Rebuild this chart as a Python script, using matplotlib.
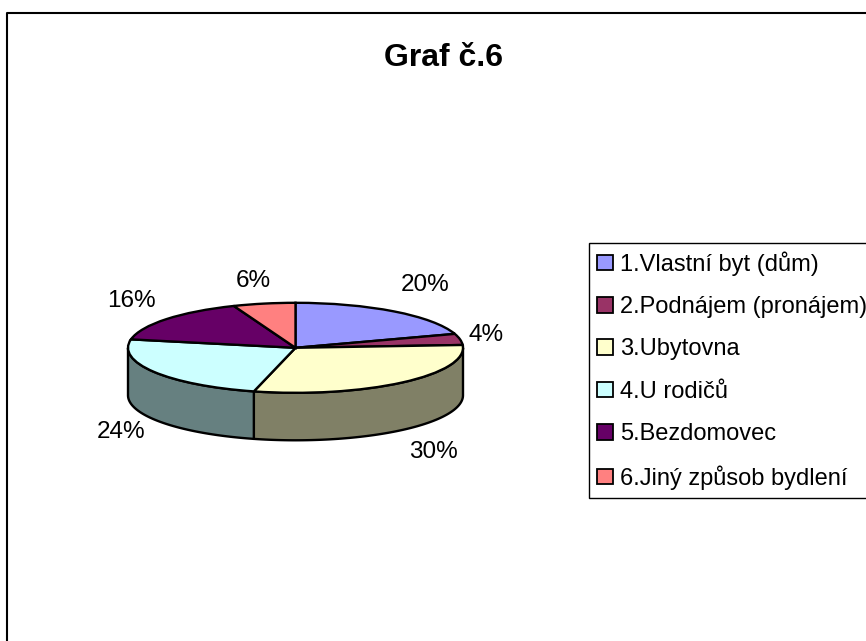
import numpy as np
import matplotlib
matplotlib.use("Agg")
import matplotlib.pyplot as plt
from matplotlib.lines import Line2D
from matplotlib.colors import to_rgb

categories = ["1.Vlastní byt (dům)", "2.Podnájem (pronájem)", "3.Ubytovna",
              "4.U rodičů", "5.Bezdomovec", "6.Jiný způsob bydlení"]
values = [20, 4, 30, 24, 16, 6]
colors = ["#9999FF", "#993366", "#FFFFCC", "#CCFFFF", "#660066", "#FF8080"]
title = "Graf č.6"

plt.rcParams['font.family'] = ['Liberation Sans', 'DejaVu Sans']
W, H = 866, 641
fig = plt.figure(figsize=(W / 100, H / 100), dpi=100, facecolor="white")

def fx(x): return x / W
def fy(y): return 1 - y / H

# pie geometry in pixels
cx, cy, rx, ry, depth = 295.5, 347.8, 167.5, 45.0, 47.5
ax = fig.add_axes([0, 0, 1, 1])

wedges, _ = ax.pie(values, colors=colors, startangle=90, counterclock=False, radius=1,
                   wedgeprops=dict(edgecolor="black", linewidth=1.7, zorder=3))
ax.set_aspect("auto")
ax.set_xlim(-cx / rx, (W - cx) / rx)
ax.set_ylim((cy - H) / ry, cy / ry)
ax.axis("off")

# side wall, built from the same values
d = depth / ry
edges = np.cumsum([0] + values) / sum(values) * 2 * np.pi
for a0, a1, c in zip(edges[:-1], edges[1:], colors):
    lo, hi = max(a0, np.pi / 2), min(a1, 3 * np.pi / 2)
    if hi <= lo:
        continue
    t = np.linspace(lo, hi, 80)
    xs = np.sin(t)
    ys = np.cos(t)
    px = np.r_[xs, xs[::-1]]
    py = np.r_[ys, ys[::-1] - d]
    dark = tuple(v * 0.5 for v in to_rgb(c))
    ax.fill(px, py, facecolor=dark, edgecolor="black", linewidth=1.7, zorder=2,
            joinstyle="round")

# percent labels
label_pos = [(425, 285), (486, 335), (433, 452), (121, 432), (131, 301), (253, 281)]
for v, (x, y) in zip(values, label_pos):
    fig.text(fx(x), fy(y), f"{v}%", fontsize=17.5, ha="center", va="center", color="black")

fig.text(fx(444), fy(58), title, fontsize=23, fontweight="bold", ha="center", va="center")

# chart frame: only left and top edges fall inside the picture
fig.add_artist(Line2D([fx(7), fx(7), fx(W)], [fy(H), fy(12.5), fy(12.5)], color="black", lw=1.5))

# legend
leg = fig.legend(wedges, categories, loc="upper left",
                 bbox_to_anchor=(fx(589), fy(243.5)), bbox_transform=fig.transFigure,
                 fontsize=17, frameon=True, fancybox=False, edgecolor="black", framealpha=1,
                 borderpad=0.33, labelspacing=0.86, handlelength=0.68, handleheight=0.64,
                 handletextpad=0.3, borderaxespad=0)
leg.get_frame().set_linewidth(1.0)
for h in leg.legend_handles:
    h.set_linewidth(1.3)

fig.savefig("out.png", dpi=100)
